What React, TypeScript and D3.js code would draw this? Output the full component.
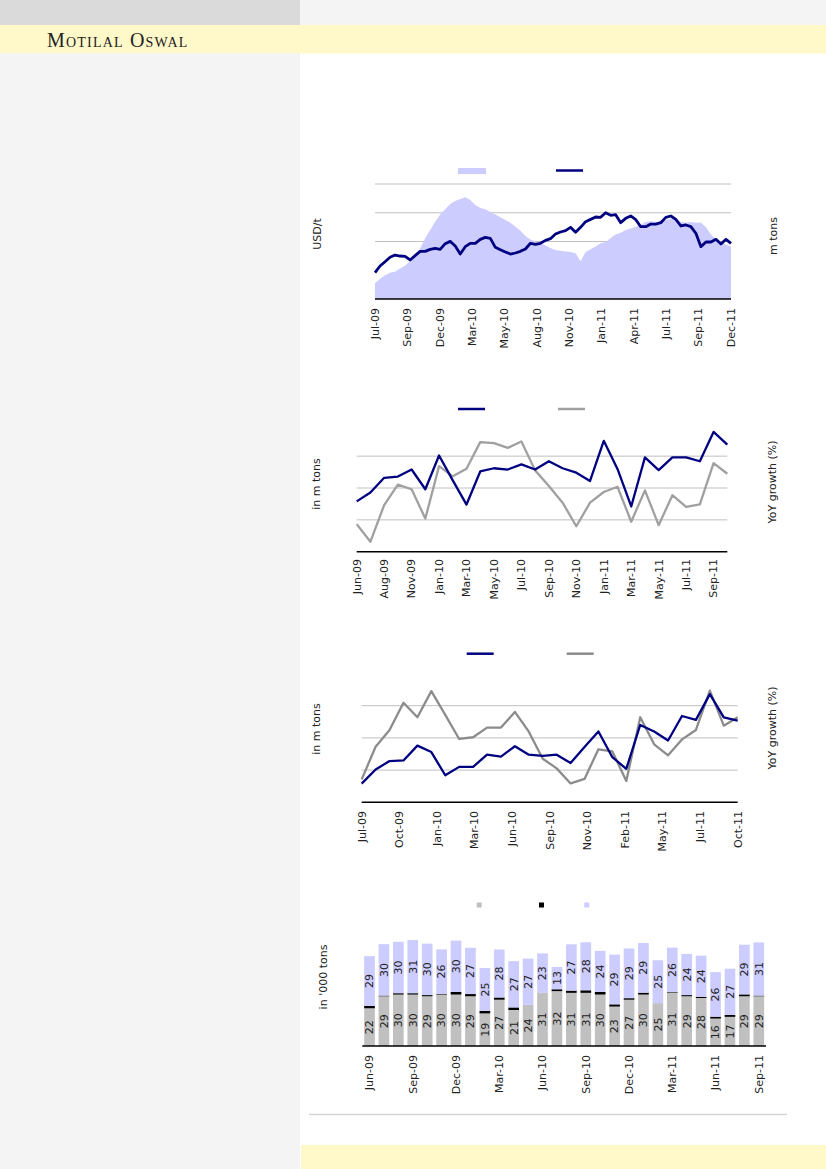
import * as d3 from "d3";

const FONT = "'DejaVu Sans', Verdana, sans-serif";
const NAVY = "#000080";
const LAVENDER = "#ccccff";
const GRID = "#c0c0c0";
const YELLOW = "#fff8c9";

// Chart 1: price (USD/t, left) and stocks (m tons, right), sampled across the period
const priceTicks = ["Jul-09", "Sep-09", "Dec-09", "Mar-10", "May-10", "Aug-10", "Nov-10", "Jan-11", "Apr-11", "Jul-11", "Sep-11", "Dec-11"];
const priceUsd = [
  1566, 1659, 1719, 1780, 1812, 1798, 1794, 1743, 1803, 1863, 1863, 1891,
  1905, 1891, 1970, 2002, 1937, 1826, 1928, 1975, 1975, 2030, 2058, 2044,
  1919, 1886, 1854, 1826, 1840, 1863, 1896, 1975, 1961, 1975, 2016, 2039,
  2104, 2132, 2151, 2197, 2128, 2197, 2276, 2308, 2341, 2336, 2401, 2364,
  2373, 2262, 2322, 2355, 2304, 2206, 2206, 2243, 2243, 2262, 2336, 2355,
  2308, 2216, 2230, 2206, 2114, 1928, 1993, 1993, 2030, 1965, 2030, 1975,
];
const stocksMt = [
  0.68, 0.88, 1.03, 1.14, 1.19, 1.33, 1.45, 1.65, 1.84, 2.2, 2.64, 3.0,
  3.36, 3.67, 3.9, 4.13, 4.26, 4.35, 4.42, 4.3, 4.09, 3.96, 3.9, 3.78,
  3.67, 3.55, 3.43, 3.32, 3.14, 2.97, 2.74, 2.59, 2.51, 2.42, 2.33, 2.22,
  2.13, 2.1, 2.07, 2.04, 1.99, 1.64, 2.04, 2.16, 2.28, 2.42, 2.48, 2.65,
  2.8, 2.88, 3.0, 3.06, 3.14, 3.23, 3.35, 3.38, 3.35, 3.38, 3.43, 3.49,
  3.46, 3.35, 3.32, 3.35, 3.32, 3.33, 3.12, 2.8, 2.59, 2.48, 2.36, 2.28,
];
const priceGrid = [2000, 2400, 2800];

// Chart 2: monthly volume (m tons) and YoY growth (%)
const supplyTicks = ["Jun-09", "Aug-09", "Nov-09", "Jan-10", "Mar-10", "May-10", "Jul-10", "Sep-10", "Nov-10", "Jan-11", "Mar-11", "May-11", "Jul-11", "Sep-11"];
const supplyMt = [
  0.79, 0.93, 1.16, 1.18, 1.29, 0.98, 1.51, 1.12, 0.74, 1.26, 1.31, 1.29, 1.37, 1.29,
  1.42, 1.31, 1.24, 1.11, 1.74, 1.3, 0.71, 1.48, 1.28, 1.48, 1.48, 1.42, 1.88, 1.68,
];
const supplyYoY = [
  -17.0, -25.3, -8.1, 1.6, -0.6, -14.4, 10.3, 5.5, 9.1, 21.6, 21.1, 18.9, 21.9, 8.3,
  0.9, -6.9, -18.0, -6.9, -1.9, 0.6, -15.9, -1.1, -17.5, -3.4, -8.9, -7.7, 11.7, 6.7,
];

// Chart 3: monthly volume (m tons) and YoY growth (%)
const demandTicks = ["Jul-09", "Oct-09", "Jan-10", "Mar-10", "Jun-10", "Sep-10", "Nov-10", "Feb-11", "May-11", "Jul-11", "Oct-11"];
const demandMt = [
  0.29, 0.51, 0.64, 0.65, 0.88, 0.78, 0.42, 0.55, 0.55, 0.74, 0.71, 0.87, 0.74, 0.72,
  0.74, 0.61, 0.86, 1.1, 0.7, 0.52, 1.2, 1.1, 0.96, 1.34, 1.28, 1.68, 1.32, 1.27,
];
const demandYoY = [
  -19.3, -4.1, 3.7, 16.4, 9.6, 21.8, 10.7, -0.5, 0.3, 4.8, 4.8, 12.1, 2.9, -9.7,
  -14.2, -21.2, -19.1, -5.3, -6.3, -20.1, 9.6, -3.0, -8.1, -0.7, 3.7, 22.0, 5.7, 9.6,
];
const lineGrid = [0.5, 1, 1.5];

// Chart 4: stacked monthly volumes ('000 tons)
const barMonths = [
  "Jun-09", "Jul-09", "Aug-09", "Sep-09", "Oct-09", "Nov-09", "Dec-09", "Jan-10", "Feb-10", "Mar-10",
  "Apr-10", "May-10", "Jun-10", "Jul-10", "Aug-10", "Sep-10", "Oct-10", "Nov-10", "Dec-10", "Jan-11",
  "Feb-11", "Mar-11", "Apr-11", "May-11", "Jun-11", "Jul-11", "Aug-11", "Sep-11",
];
const barLower = [22, 29, 30, 30, 29, 30, 30, 29, 19, 27, 21, 24, 31, 32, 31, 31, 30, 23, 27, 30, 25, 31, 29, 28, 16, 17, 29, 29];
const barMiddle = [1.4, 0.4, 0.8, 0.8, 0.7, 0.4, 1.5, 1.3, 1.5, 1.3, 1.5, 0, 0, 1.1, 1.3, 1.5, 1.5, 1.3, 0.9, 1.1, 0, 0.4, 0.7, 0.7, 1.1, 1.1, 1.1, 0.4];
const barUpper = [29, 30, 30, 31, 30, 26, 30, 27, 25, 28, 27, 27, 23, 13, 27, 28, 24, 29, 29, 29, 25, 26, 24, 24, 26, 27, 29, 31];

function VText({ x, y, anchor = "middle", children, fill = "#222" }: any) {
  return (
    <text
      transform={`translate(${x},${y}) rotate(-90)`}
      textAnchor={anchor}
      dy="0.35em"
      fontFamily={FONT}
      fontSize={11}
      fill={fill}
    >
      {children}
    </text>
  );
}

function TickLabels({ labels, pos, y }: { labels: string[]; pos: (k: number) => number; y: number }) {
  return (
    <g>
      {labels.map((t, k) => (
        <VText key={t + k} x={pos(k)} y={y} anchor="end">
          {t}
        </VText>
      ))}
    </g>
  );
}

function PriceStocksChart() {
  const x = d3.scaleLinear().domain([0, priceUsd.length - 1]).range([375, 731]);
  const yL = d3.scaleLinear().domain([1200, 2800]).range([299, 184]);
  const yR = d3.scaleLinear().domain([0, 5]).range([299, 184]);
  const area = d3.area<number>().x((_, i) => x(i)).y0(yR(0)).y1((d) => yR(d));
  const line = d3.line<number>().x((_, i) => x(i)).y((d) => yL(d));
  const step = (priceUsd.length - 1) / (priceTicks.length - 1);
  return (
    <g>
      <rect x={458} y={168} width={28} height={6} fill={LAVENDER} />
      <line x1={556} x2={583} y1={170.5} y2={170.5} stroke={NAVY} strokeWidth={2.5} />
      {priceGrid.map((g) => (
        <line key={g} x1={375} x2={731} y1={yL(g)} y2={yL(g)} stroke={GRID} strokeWidth={1} />
      ))}
      <path d={area(stocksMt) ?? ""} fill={LAVENDER} />
      <path d={line(priceUsd) ?? ""} fill="none" stroke={NAVY} strokeWidth={2.8} strokeLinejoin="round" />
      <line x1={375} x2={731} y1={299} y2={299} stroke="#000" strokeWidth={1.5} />
      <TickLabels labels={priceTicks} pos={(k) => x(k * step)} y={308} />
      <VText x={317} y={234}>USD/t</VText>
      <VText x={773} y={236}>m tons</VText>
    </g>
  );
}

function DualLineChart({
  volume, growth, ticks, tickStep, x0, x1, yBottom, yTop, legendY, legendX, gray, tickY, leftY, rightY,
}: any) {
  const x = d3.scaleLinear().domain([0, volume.length - 1]).range([x0, x1]);
  const yL = d3.scaleLinear().domain([0, 2]).range([yBottom, yTop]);
  const yR = d3.scaleLinear().domain([-30, 30]).range([yBottom, yTop]);
  const lineL = d3.line<number>().x((_, i) => x(i)).y((d) => yL(d));
  const lineR = d3.line<number>().x((_, i) => x(i)).y((d) => yR(d));
  return (
    <g>
      <line x1={legendX} x2={legendX + 27} y1={legendY} y2={legendY} stroke={NAVY} strokeWidth={2.5} />
      <line x1={legendX + 100} x2={legendX + 127} y1={legendY} y2={legendY} stroke={gray} strokeWidth={2.5} />
      {lineGrid.map((g) => (
        <line key={g} x1={x0} x2={x1} y1={yL(g)} y2={yL(g)} stroke={GRID} strokeWidth={1} />
      ))}
      <path d={lineR(growth) ?? ""} fill="none" stroke={gray} strokeWidth={2.3} strokeLinejoin="round" />
      <path d={lineL(volume) ?? ""} fill="none" stroke={NAVY} strokeWidth={2.3} strokeLinejoin="round" />
      <line x1={x0} x2={x1} y1={yBottom} y2={yBottom} stroke="#000" strokeWidth={1.5} />
      <TickLabels labels={ticks} pos={(k) => x(k * tickStep)} y={tickY} />
      <VText x={316} y={leftY}>in m tons</VText>
      <VText x={772} y={rightY}>YoY growth (%)</VText>
    </g>
  );
}

function StackedBarChart() {
  const x = d3.scaleBand<string>().domain(barMonths).range([362.3, 766]).paddingInner(0.26).paddingOuter(0.13);
  const y = d3.scaleLinear().domain([0, 70]).range([1046, 926]);
  const rows = barMonths.map((m, i) => ({ m, a: barLower[i], b: barMiddle[i], c: barUpper[i] }));
  const stack = d3.stack<any>().keys(["a", "b", "c"])(rows);
  const colors = ["#c0c0c0", "#000000", LAVENDER];
  return (
    <g>
      {colors.map((c, k) => (
        <rect key={c} x={[476.7, 539, 584.3][k]} y={902.5} width={5} height={5} fill={c} />
      ))}
      {stack.map((s, k) => (
        <g key={s.key}>
          {s.map((d, i) => (
            <rect
              key={i}
              x={x(barMonths[i])}
              y={y(d[1])}
              width={x.bandwidth()}
              height={Math.max(0, y(d[0]) - y(d[1]))}
              fill={colors[k]}
            />
          ))}
        </g>
      ))}
      {[0, 2].map((k) => (
        <g key={k}>
          {stack[k].map((d, i) => (
            <VText key={i} x={(x(barMonths[i]) ?? 0) + x.bandwidth() / 2} y={(y(d[0]) + y(d[1])) / 2}>
              {k === 0 ? barLower[i] : barUpper[i]}
            </VText>
          ))}
        </g>
      ))}
      <line x1={362.3} x2={766} y1={1046} y2={1046} stroke="#000" strokeWidth={1.5} />
      {barMonths.map((m, i) =>
        i % 3 === 0 ? (
          <VText key={m} x={(x(m) ?? 0) + x.bandwidth() / 2} y={1055} anchor="end">
            {m}
          </VText>
        ) : null,
      )}
      <VText x={323} y={977}>in '000 tons</VText>
    </g>
  );
}

export default function App() {
  return (
    <div style={{ position: "absolute", left: 0, top: 0 }}>
      <svg width={826} height={1169} viewBox="0 0 826 1169" style={{ display: "block" }}>
        <rect x={0} y={0} width={826} height={1169} fill="#fff" />
        <rect x={0} y={0} width={300} height={25} fill="#dadada" />
        <rect x={300} y={0} width={526} height={25} fill="#f4f4f4" />
        <rect x={0} y={25} width={826} height={28.5} fill={YELLOW} />
        <rect x={0} y={53.5} width={300} height={1116} fill="#f4f4f4" />
        <rect x={301} y={1145} width={525} height={24} fill={YELLOW} />
        <line x1={309} x2={787} y1={1114.5} y2={1114.5} stroke="#d4d4d4" strokeWidth={1.5} />
        <text
          x={47}
          y={47}
          fontFamily="'Liberation Serif', 'Times New Roman', serif"
          fontSize={20}
          letterSpacing={1.2}
          style={{ fontVariant: "small-caps" }}
          fill="#222"
        >
          Motilal Oswal
        </text>
        <PriceStocksChart />
        <DualLineChart
          volume={supplyMt}
          growth={supplyYoY}
          ticks={supplyTicks}
          tickStep={2}
          x0={356.7}
          x1={727.3}
          yBottom={551.7}
          yTop={424.3}
          legendX={458}
          legendY={409}
          gray="#a0a0a0"
          tickY={559}
          leftY={484}
          rightY={482}
        />
        <DualLineChart
          volume={demandMt}
          growth={demandYoY}
          ticks={demandTicks}
          tickStep={2.7}
          x0={361.7}
          x1={737.7}
          yBottom={802.3}
          yTop={673.5}
          legendX={466.7}
          legendY={653.7}
          gray="#8c8c8c"
          tickY={811}
          leftY={729}
          rightY={728}
        />
        <StackedBarChart />
      </svg>
    </div>
  );
}
